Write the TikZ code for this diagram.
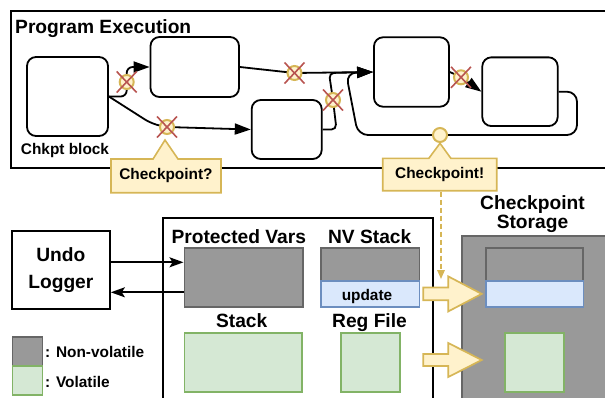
\documentclass[tikz,border=0pt]{standalone}
\usepackage{fontspec}
\setmainfont{Liberation Sans}
\usetikzlibrary{arrows.meta,shapes.callouts}
\definecolor{yfill}{HTML}{FFF2CC}
\definecolor{gold}{HTML}{D6B656}
\definecolor{xred}{HTML}{B85450}
\definecolor{gfill}{HTML}{999999}
\definecolor{gline}{HTML}{666666}
\definecolor{grfill}{HTML}{D5E8D4}
\definecolor{grline}{HTML}{82B366}
\definecolor{bfill}{HTML}{DAE8FC}
\definecolor{bline}{HTML}{6C8EBF}
\newcommand\crossmk[1]{%
  \draw[xl] ([shift={(-10pt,-10.5pt)}]#1.center) -- ([shift={(10pt,10.5pt)}]#1.center);
  \draw[xl] ([shift={(-10pt,10.5pt)}]#1.center) -- ([shift={(10pt,-10.5pt)}]#1.center);}
\begin{document}
\begin{tikzpicture}[x=1pt,y=-1pt,
  lbl/.style={font=\fontsize{19.2}{21}\selectfont\bfseries, inner sep=0pt},
  slbl/.style={font=\fontsize{15.4}{17}\selectfont\bfseries, inner sep=0pt},
  pbox/.style={draw, line width=1.8pt, rounded corners=9pt, inner sep=0pt},
  flow/.style={line width=1.8pt, -{Triangle[length=16pt,width=11pt]}, rounded corners=6pt},
  ckmark/.style={circle, draw=gold, fill=yfill, line width=2pt, minimum size=14pt, inner sep=0pt},
  xl/.style={draw=xred, line width=1.6pt},
  callbox/.style={rectangle callout, draw=gold, fill=yfill, line width=1.6pt, inner sep=0pt,
     font=\fontsize{15.4}{17}\selectfont\bfseries},
  nvbox/.style={draw=gline, fill=gfill, line width=1.6pt, inner sep=0pt},
  volbox/.style={draw=grline, fill=grfill, line width=1.6pt, inner sep=0pt},
  updbox/.style={draw=bline, fill=bfill, line width=1.6pt, inner sep=0pt},
  sarr/.style={line width=1.7pt, -{Stealth[length=14pt,width=10pt,inset=3pt]}},
  barrow/.style={draw=gold, fill=yfill, line width=1.7pt, line join=miter}
]
\useasboundingbox (0,0) rectangle (605,397);
\clip (0,0) rectangle (605,397);
% ---------- program execution ----------
\node[draw, line width=2pt, anchor=north west, minimum width=620pt, minimum height=156.5pt, inner sep=0pt] (prog) at (10,10) {};
\node[lbl, anchor=base west] (title) at (15,33.3) {Program Execution};
\node[pbox, minimum width=81pt, minimum height=79pt] (b1) at (67.5,96.5) {};
\node[slbl, anchor=base] (b1l) at (65,154) {Chkpt block};
\node[pbox, minimum width=88.5pt, minimum height=60pt] (b2) at (194.75,67) {};
\node[pbox, minimum width=70pt, minimum height=59pt] (b3) at (286.7,129.5) {};
\node[pbox, minimum width=75pt, minimum height=69.4pt] (b4) at (411.5,72) {};
\node[pbox, minimum width=75.4pt, minimum height=68.7pt] (b5) at (520,91.7) {};
\coordinate (m1) at (126.7,82);
\coordinate (m2) at (167,127);
\coordinate (m3) at (294.5,73);
\coordinate (m4) at (333,100);
\coordinate (m5) at (461,77.3);
\coordinate (oc) at (440,135);
\draw[flow] (b1.east) -| (m1) |- (b2.west);
\draw[flow, rounded corners=8pt] (b1.east) -- (152,124) -- (m2) -- (b3.west);
\draw[flow] (b2.east) -- (m3) -- (b4.west);
\draw[flow, rounded corners=5pt] (b3.east) -- (336.5,129.5) -- (m4) -- (329,73) -- (b4.west);
\draw[flow, rounded corners=10pt] (b5.east) -- (577,91.7) -- (577,135) -- (oc) -- (358,135) -- (346,73) -- (b4.west);
\draw[flow] (b4.east) -- (m5) -- (b5.west);
\node[ckmark] (x1) at (m1) {}; \crossmk{x1}
\node[ckmark] (x2) at (m2) {}; \crossmk{x2}
\node[ckmark] (x3) at (m3) {}; \crossmk{x3}
\node[ckmark] (x4) at (m4) {}; \crossmk{x4}
\node[ckmark] (x5) at (m5) {}; \crossmk{x5}
\node[ckmark] (o1) at (oc) {};
\node[callbox, minimum width=110pt, minimum height=33.7pt, callout absolute pointer={(165,140)}, callout pointer width=25pt] (cp1) at (166,175.85) {Checkpoint?};
\node[callbox, minimum width=114pt, minimum height=32.4pt, callout absolute pointer={(440,143.3)}, callout pointer width=22pt] (cp2) at (439.7,174.5) {Checkpoint!};
\coordinate (dtip) at (441,279);
\draw[draw=gold, line width=1.6pt, dash pattern=on 5pt off 3pt, -{Triangle[length=9pt,width=7.5pt]}] (dtip |- cp2.south) -- (dtip);
% ---------- memory ----------
\node[draw, line width=1.7pt, minimum width=98.3pt, minimum height=78.6pt, align=center,
  font=\fontsize{19.2}{27}\selectfont\bfseries, inner sep=0pt] (ul) at (60.85,270) {Undo\\Logger};
\node[draw, line width=2pt, anchor=north west, minimum width=269.4pt, minimum height=220pt, inner sep=0pt] (mem) at (162.3,217.3) {};
\node[lbl, anchor=base] (pvl) at (238.8,243.4) {Protected Vars};
\node[nvbox, minimum width=118.4pt, minimum height=59pt] (pv) at (243.5,277.2) {};
\node[lbl, anchor=base] (nvl) at (369.7,243.4) {NV Stack};
\node[nvbox, minimum width=98.6pt, minimum height=33.3pt] (nvs) at (370,264.35) {};
\node[updbox, minimum width=98.6pt, minimum height=25.7pt] (upd) at (370,293.85) {};
\node[slbl, anchor=base] (updl) at (367,300.7) {update};
\node[lbl, anchor=base] (stl) at (241.7,327.7) {Stack};
\node[volbox, minimum width=117.4pt, minimum height=59pt] (stk) at (243,362.2) {};
\node[lbl, anchor=base] (rfl) at (369.5,327.7) {Reg File};
\node[volbox, minimum width=59.3pt, minimum height=59pt] (rf) at (370.35,362.2) {};
% ---------- checkpoint storage ----------
\node[lbl, align=center, font=\fontsize{19.2}{18.3}\selectfont\bfseries] (csl) at (532.5,214.2) {Checkpoint\\Storage};
\node[nvbox, anchor=north west, minimum width=160pt, minimum height=200pt] (cs) at (461,235) {};
\node[draw=gline, fill=gfill, line width=2.2pt, inner sep=0pt, minimum width=97.6pt, minimum height=33.3pt] (cnv) at (534.5,264.35) {};
\node[updbox, minimum width=97.6pt, minimum height=25.7pt] (cup) at (534.5,293.85) {};
\node[volbox, minimum width=59pt, minimum height=59pt] (cst) at (534.5,362.2) {};
\draw[barrow] (423.3,287.5) -- (448.3,287.5) -- (448.3,276.4) -- (481.7,293.9) -- (448.3,311.4) -- (448.3,300.3) -- (423.3,300.3) -- cycle;
\draw[barrow] (423.3,354) -- (448.3,354) -- (448.3,343) -- (481.7,360) -- (448.3,377) -- (448.3,366) -- (423.3,366) -- cycle;
% ---------- undo arrows ----------
\coordinate (ua) at ([yshift=7.7pt]ul.east);
\coordinate (la) at ([yshift=-15.1pt]pv.west);
\draw[sarr] (ua) -- (ua -| pv.west);
\draw[sarr] (la) -- (la -| ul.east);
% ---------- legend ----------
\node[nvbox, minimum width=30pt, minimum height=29pt] (lg1) at (27.3,351.2) {};
\node[volbox, minimum width=30pt, minimum height=29.3pt] (lg2) at (27.3,380.35) {};
\node[slbl, anchor=base west] (lg1l) at (45,357.3) {: Non-volatile};
\node[slbl, anchor=base west] (lg2l) at (45,387.3) {: Volatile};
\end{tikzpicture}
\end{document}
